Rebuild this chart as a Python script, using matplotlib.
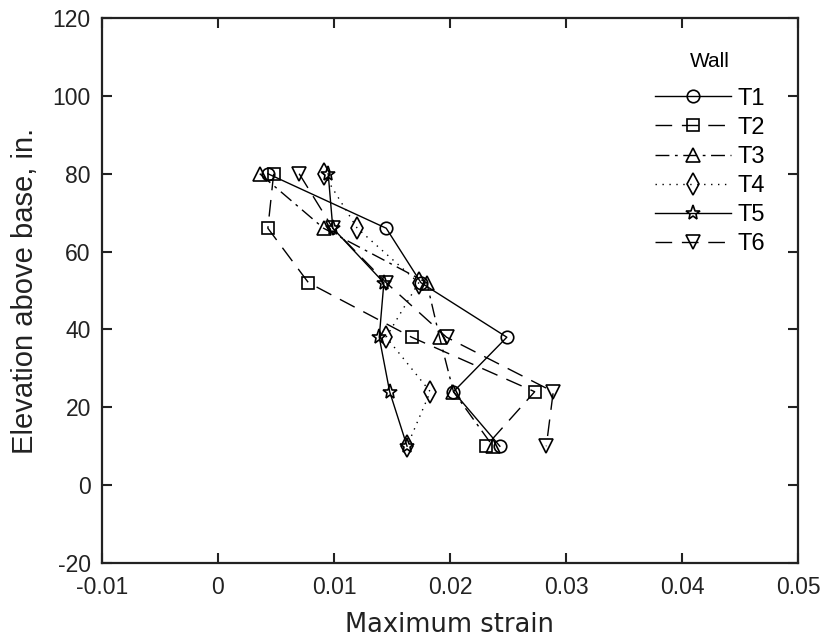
import matplotlib
matplotlib.use("Agg")
import matplotlib.pyplot as plt

plt.rcParams["axes.unicode_minus"] = False

# Elevation levels (in.) and maximum strain per wall
elevation = [80, 66, 52, 38, 24, 10]
t1 = [0.0043, 0.0145, 0.0175, 0.0249, 0.0203, 0.0243]
t2 = [0.0048, 0.0043, 0.0078, 0.0167, 0.0273, 0.0231]
t3 = [0.0036, 0.0091, 0.0180, 0.0191, 0.0203, 0.0237]
t4 = [0.0091, 0.0120, 0.0173, 0.0145, 0.0183, 0.0163]
t5 = [0.0095, 0.0099, 0.0143, 0.0139, 0.0148, 0.0163]
t6 = [0.0070, 0.0099, 0.0145, 0.0197, 0.0289, 0.0283]

labels = ["T1", "T2", "T3", "T4", "T5", "T6"]
series = [t1, t2, t3, t4, t5, t6]
markers = ["o", "s", "^", "d", "*", "v"]
msizes = [9, 9, 10, 11, 11, 10]
styles = ["-", (0, (12, 7)), (0, (10, 4, 2, 4)), (0, (1, 4)), "-", (0, (12, 7))]

xticks = [-0.01, 0, 0.01, 0.02, 0.03, 0.04, 0.05]
xticklabels = ["-0.01", "0", "0.01", "0.02", "0.03", "0.04", "0.05"]
yticks = [-20, 0, 20, 40, 60, 80, 100, 120]

fig = plt.figure(figsize=(8.25, 6.43), dpi=100)
ax = fig.add_axes([0.1236, 0.1244, 0.8437, 0.8476])

for xs, lab, m, ms, ls in zip(series, labels, markers, msizes, styles):
    ax.plot(xs, elevation, color="black", linewidth=1.0, linestyle=ls,
            marker=m, markersize=ms, markerfacecolor="none",
            markeredgecolor="black", markeredgewidth=1.2, label=lab)

ax.set_xlim(-0.01, 0.05)
ax.set_ylim(-20, 120)
ax.set_xticks(xticks)
ax.set_xticklabels(xticklabels)
ax.set_yticks(yticks)
ax.tick_params(direction="in", length=7, width=1.5, top=True, right=True,
               labelsize=16.5, color="#222222", labelcolor="#222222")
ax.tick_params(axis="x", pad=9)
ax.tick_params(axis="y", pad=8)
for lbl in ax.get_xticklabels() + ax.get_yticklabels():
    lbl.set_family("Liberation Sans")
for sp in ax.spines.values():
    sp.set_linewidth(1.6)
    sp.set_color("#222222")

ax.set_xlabel("Maximum strain", fontsize=18.5, family="DejaVu Sans",
              labelpad=10, color="#222222")
ax.set_ylabel("Elevation above base, in.", fontsize=21,
              family="Liberation Sans", labelpad=10, color="#222222")

leg = ax.legend(title="Wall", loc="upper left", frameon=False,
                prop={"family": "Liberation Sans", "size": 17},
                handlelength=3.2, handletextpad=0.3, labelspacing=0.3,
                borderpad=0, borderaxespad=0,
                bbox_to_anchor=(0.7945, 0.9376))
leg.get_title().set_family("Liberation Sans")
leg.get_title().set_fontsize(15)
# a little more room between the title and the entries
leg._legend_box.sep = 12

fig.savefig("out.png", dpi=100)
